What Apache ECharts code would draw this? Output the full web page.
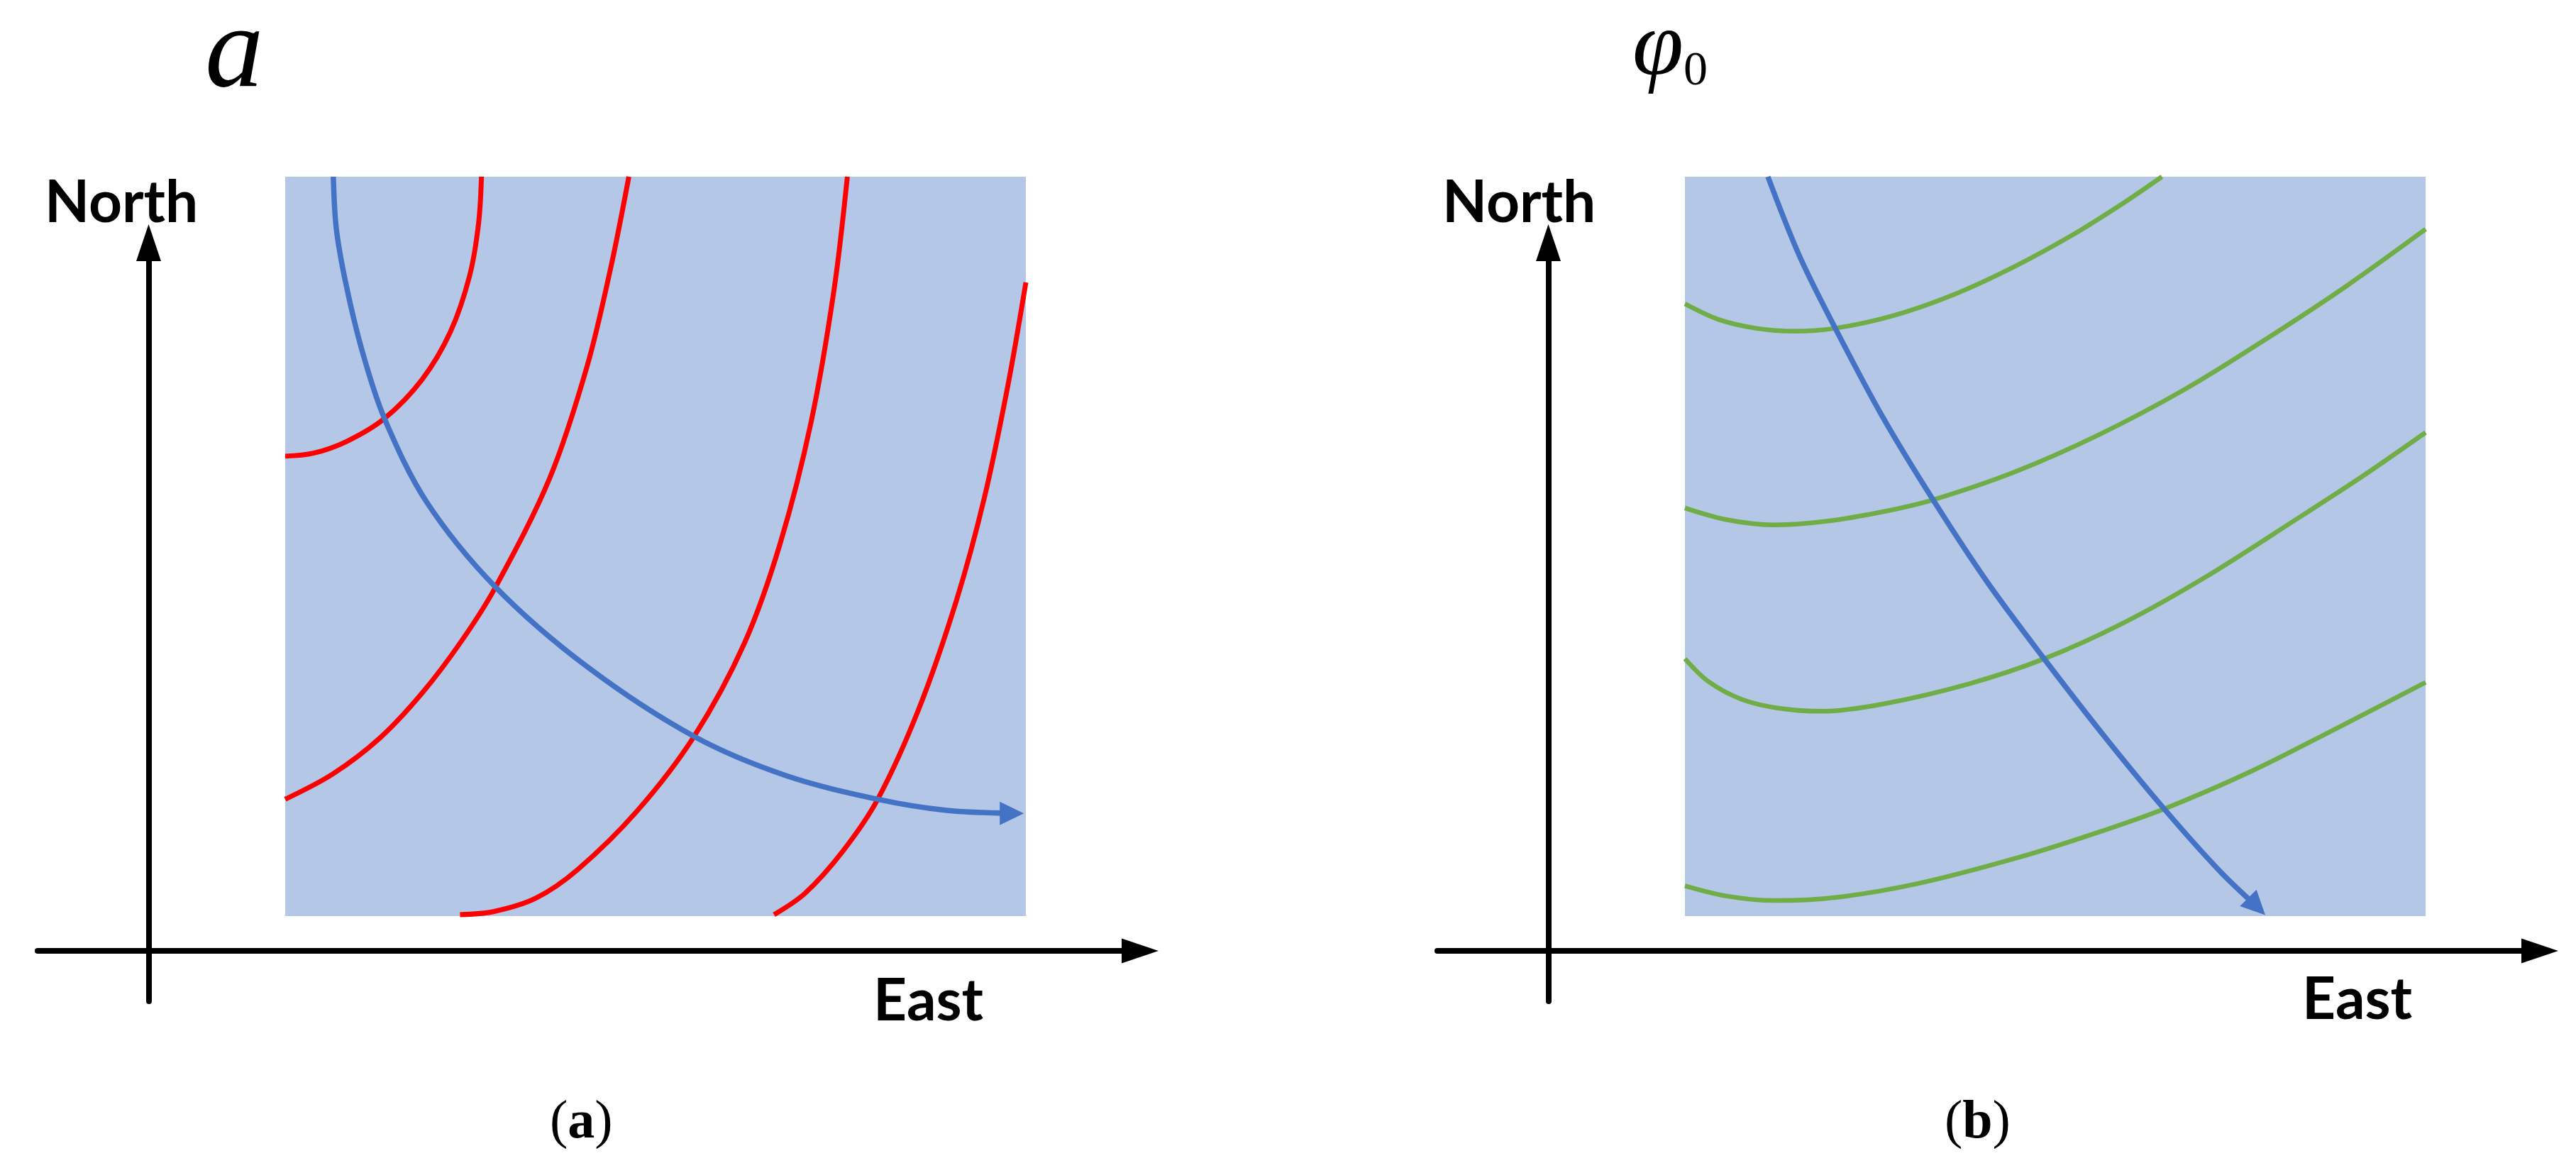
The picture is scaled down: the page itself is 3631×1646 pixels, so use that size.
<!DOCTYPE html>
<html>
<head>
<meta charset="utf-8">
<title>a and phi0 contours</title>
<script src="https://cdn.jsdelivr.net/npm/echarts@6/dist/echarts.min.js"></script>
<style>
  html, body { margin: 0; padding: 0; background: #fff; }
  #chart { width: 3631px; height: 1646px; }
</style>
</head>
<body>
<div id="chart"></div>
<script>
const trackA = [[6.5,100],[6.9,93],[8.2,85.5],[10.4,76.4],[13.4,67.3],[19.1,56],[28.4,44.5],[40.8,33.7],[55.2,24.3],[67.6,19],[80,15.8],[89.3,14.3],[98.1,13.9]];
const redA1 = [[0,62.2],[3.8,62.6],[8.3,64.2],[13.4,67.3],[18.5,72.6],[22.3,79],[24.9,86.6],[26.1,93.6],[26.5,100]];
const redA2 = [[0,15.8],[6.4,19.2],[12.8,24.1],[18.6,30.3],[23.8,37.2],[28.4,44.5],[35.7,59.2],[40.8,74.5],[44,87.9],[46.4,100]];
const redA3 = [[23.6,0.2],[28.1,0.6],[33.8,2.4],[39.5,6.3],[47.5,14.2],[55.2,24.3],[62,36.9],[66.8,50.3],[71,66.8],[74.1,84.7],[75.9,100]];
const redA4 = [[66,0.2],[70.2,3.1],[75.3,8.8],[80,15.8],[85.5,27.9],[90.6,42.6],[94.4,56.6],[97.6,71.9],[100,85.7]];

const trackB = [[11.2,100],[15.5,89.2],[20.3,79.5],[26.7,67.5],[33.5,56.3],[40.8,45.2],[48.5,34.8],[56.8,24.1],[64.7,14.5],[72.1,6.2],[77.2,1.3]];
const greenB1 = [[0,82.8],[4.5,80.7],[9.6,79.5],[14.7,79.1],[20.3,79.5],[28.1,81.2],[36.4,84.1],[44.6,87.9],[52.3,92.1],[59.3,96.5],[64.4,100]];
const greenB2 = [[0,55.2],[5.7,53.6],[12.1,52.9],[19.1,53.4],[26.8,54.7],[33.5,56.3],[44.6,60.1],[56.1,65.2],[67.6,71.3],[78.4,78],[89.3,85.2],[100,92.9]];
const greenB3 = [[0,34.8],[3.2,31.7],[7.7,29.3],[12.8,28.1],[18.5,27.7],[26.8,28.7],[38.3,31.4],[48.5,34.8],[59.3,39.7],[70.2,45.8],[82.9,53.9],[91.5,59.5],[100,65.4]];
const greenB4 = [[0,4.1],[5.7,2.7],[12.1,2.1],[21,2.6],[31.9,4.5],[44.6,7.8],[54.8,11],[64.7,14.5],[76.5,19.6],[88,25.4],[100,31.6]];

const BLUE = '#4472c4', RED = '#ff0000', GREEN = '#70ad47', FIELD = '#b4c7e7';
const SANS = 'Lato', SERIF = '"Liberation Serif"';

let myChart = echarts.init(document.getElementById('chart'), null, { renderer: 'canvas' });

// one panel = a grid for the two arrowed axes + a grid for the shaded field
function panel(dx) {
  return {
    grid: [
      { left: 53 + dx, top: 342, width: 1554, height: 1069 },
      { left: 402 + dx, top: 249, width: 1044, height: 1042, show: true, backgroundColor: FIELD, borderWidth: 0 }
    ],
    axes: (idx) => ({
      xAxis: [
        { gridIndex: idx, type: 'value', min: -14.99, max: 133.86, splitLine: { show: false }, axisTick: { show: false }, axisLabel: { show: false },
          axisLine: { onZero: true, symbol: ['none', 'triangle'], symbolSize: [35, 52], lineStyle: { color: '#000', width: 8 } } },
        { gridIndex: idx + 1, type: 'value', min: 0, max: 100, show: false }
      ],
      yAxis: [
        { gridIndex: idx, type: 'value', min: -6.81, max: 95.8, splitLine: { show: false }, axisTick: { show: false }, axisLabel: { show: false },
          axisLine: { onZero: true, symbol: ['none', 'triangle'], symbolSize: [35, 52], lineStyle: { color: '#000', width: 8 } } },
        { gridIndex: idx + 1, type: 'value', min: 0, max: 100, show: false }
      ]
    })
  };
}

function curve(idx, data, color, width) {
  return { type: 'line', xAxisIndex: idx, yAxisIndex: idx, data: data, smooth: 0.33, symbol: 'none', clip: false, silent: true,
    lineStyle: { color: color, width: width } };
}

// track with an arrow head on its last point
function track(idx, data, rotate) {
  const pts = data.map((p, i) => i === data.length - 1
    ? { value: p, symbol: 'triangle', symbolSize: [33, 34], symbolRotate: rotate, itemStyle: { color: BLUE } }
    : { value: p });
  let s = curve(idx, pts, BLUE, 7.5);
  s.z = 3;
  return s;
}

const pa = panel(0), pb = panel(1973);
const axA = pa.axes(0), axB = pb.axes(2);
const labelStyle = { fontFamily: SANS, fontWeight: 'bold', fontSize: 82, color: '#000' };
const captionRich = {
  n: { fontFamily: SERIF, fontWeight: 'normal', fontSize: 76, color: '#000' },
  b: { fontFamily: SERIF, fontWeight: 'bold', fontSize: 76, color: '#000' }
};

let option = {
  backgroundColor: '#fff',
  animation: false,
  title: [
    { text: 'North', left: 58, top: 241, textStyle: labelStyle },
    { text: 'East', left: 1226, top: 1366, textStyle: labelStyle },
    { text: 'North', left: 2028, top: 241, textStyle: labelStyle },
    { text: 'East', left: 3240, top: 1364, textStyle: labelStyle },
    { text: 'a', left: 284, top: -10, textStyle: { fontFamily: SERIF, fontStyle: 'italic', fontWeight: 'normal', fontSize: 165, color: '#000' } },
    { text: '{p|φ}{s|0}', left: 2296, top: 0,
      textStyle: { rich: {
        p: { fontFamily: SERIF, fontStyle: 'italic', fontWeight: 'normal', fontSize: 130, color: '#000' },
        s: { fontFamily: SERIF, fontWeight: 'normal', fontSize: 68, color: '#000', verticalAlign: 'bottom' }
      } } },
    { text: '{n|(}{b|a}{n|)}', left: 770, top: 1540, textStyle: { rich: captionRich } },
    { text: '{n|(}{b|b}{n|)}', left: 2736, top: 1540, textStyle: { rich: captionRich } }
  ],
  grid: pa.grid.concat(pb.grid),
  xAxis: axA.xAxis.concat(axB.xAxis),
  yAxis: axA.yAxis.concat(axB.yAxis),
  series: [
    curve(1, redA1, RED, 7), curve(1, redA2, RED, 7), curve(1, redA3, RED, 7), curve(1, redA4, RED, 7),
    track(1, trackA, -90),
    curve(3, greenB1, GREEN, 6.5), curve(3, greenB2, GREEN, 6.5), curve(3, greenB3, GREEN, 6.5), curve(3, greenB4, GREEN, 6.5),
    track(3, trackB, -135)
  ]
};
myChart.setOption(option);
</script>
</body>
</html>
